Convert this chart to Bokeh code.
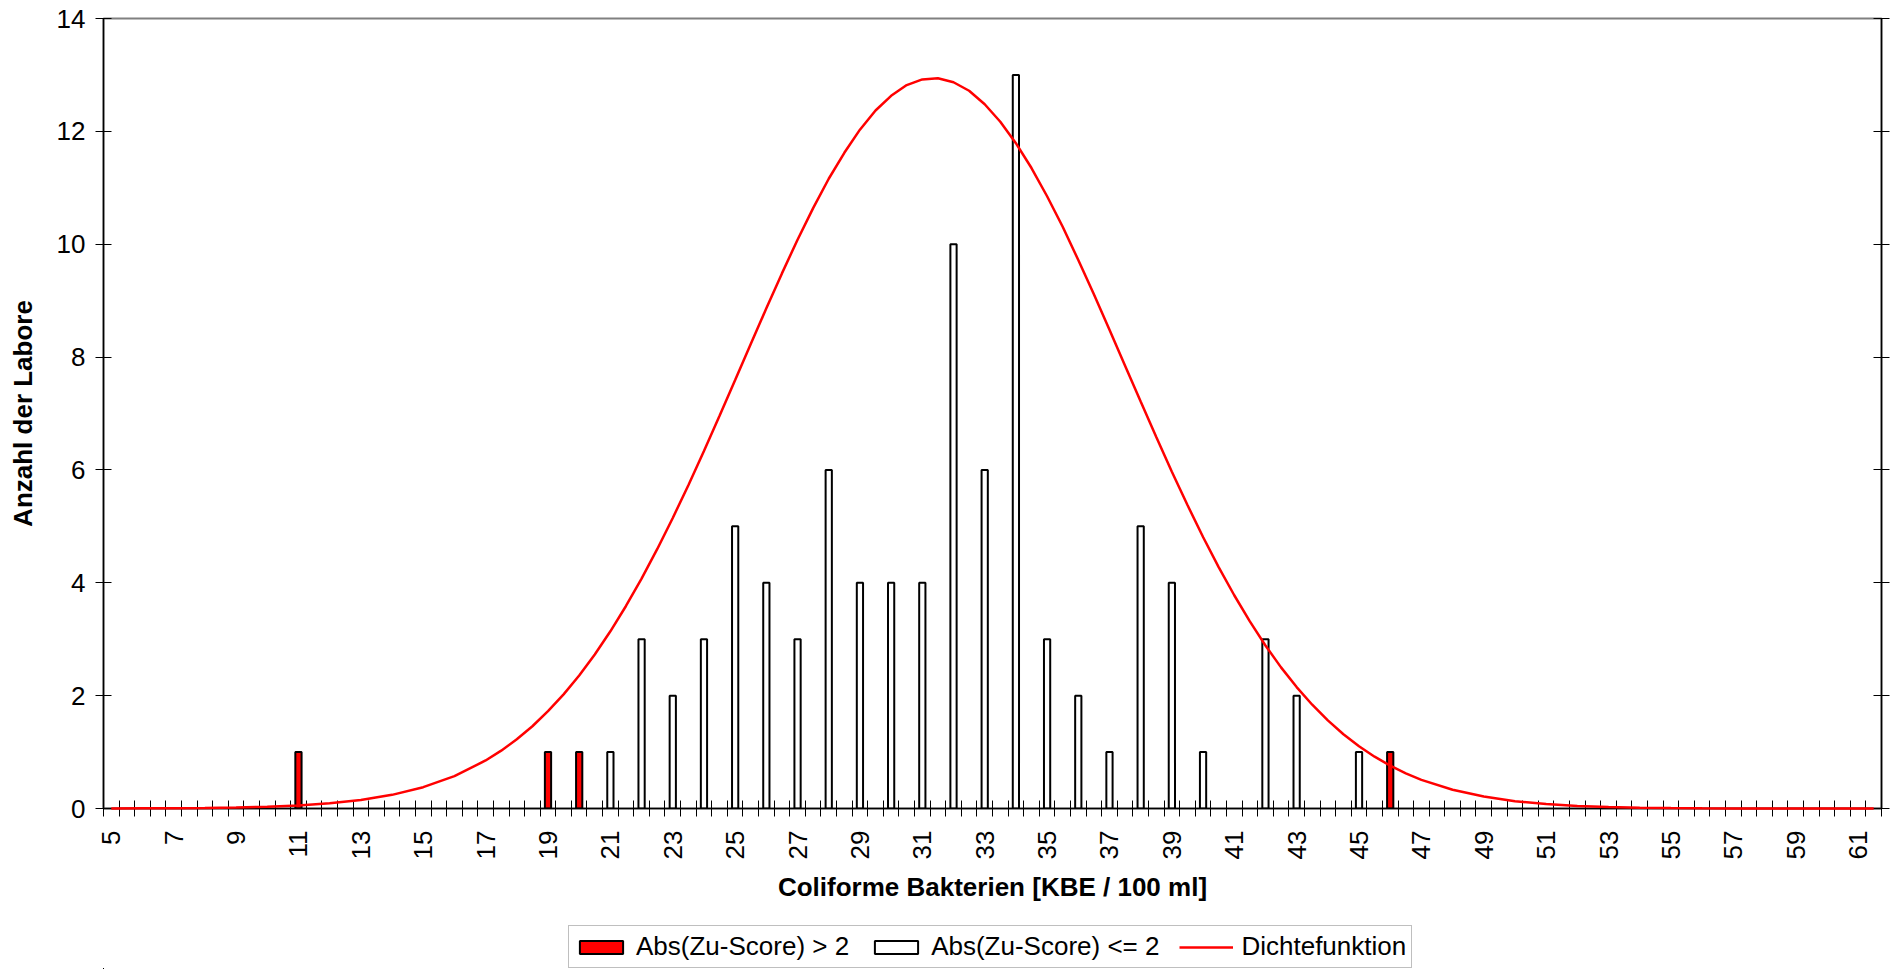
import math
from bokeh.plotting import figure
from bokeh.layouts import column
from bokeh.models import ColumnDataSource, FixedTicker, LinearAxis, Legend, LegendItem, Range1d
from bokeh.embed import file_html
from bokeh.resources import INLINE

# ---- data ----
red_x = [11, 19, 20, 46]
red_counts = [1, 1, 1, 1]

white_x = [21, 22, 23, 24, 25, 26, 27, 28, 29, 30, 31, 32, 33, 34, 35, 36, 37, 38, 39, 40, 42, 43, 45]
white_counts = [1, 3, 2, 3, 5, 4, 3, 6, 4, 4, 4, 10, 6, 13, 3, 2, 1, 5, 4, 1, 3, 2, 1]

curve_x = [5, 6, 7, 8, 9, 10, 11, 12, 13, 14, 15, 16, 17, 17.5, 18, 18.5, 19, 19.5, 20, 20.5,
           21, 21.5, 22, 22.5, 23, 23.5, 24, 24.5, 25, 25.5, 26, 26.5, 27, 27.5, 28, 28.5,
           29, 29.5, 30, 30.5, 31, 31.5, 32, 32.5, 33, 33.5, 34, 34.5, 35, 35.5, 36, 36.5,
           37, 37.5, 38, 38.5, 39, 39.5, 40, 40.5, 41, 41.5, 42, 42.5, 43, 43.5, 44, 44.5,
           45, 45.5, 46, 46.5, 47, 48, 49, 50, 51, 52, 53, 54, 55, 56, 57, 58, 59, 60, 61, 61.5]
curve_y = [0.001, 0.003, 0.005, 0.010, 0.018, 0.031, 0.054, 0.092, 0.151, 0.242, 0.378, 0.574,
           0.851, 1.025, 1.227, 1.458, 1.724, 2.023, 2.357, 2.730, 3.140, 3.589, 4.075, 4.595,
           5.149, 5.730, 6.336, 6.959, 7.593, 8.231, 8.864, 9.483, 10.08, 10.64, 11.16, 11.62,
           12.03, 12.37, 12.63, 12.82, 12.92, 12.94, 12.87, 12.72, 12.48, 12.17, 11.79, 11.35,
           10.85, 10.31, 9.72, 9.114, 8.485, 7.848, 7.211, 6.584, 5.969, 5.378, 4.812, 4.278,
           3.779, 3.315, 2.888, 2.501, 2.152, 1.839, 1.561, 1.316, 1.102, 0.918, 0.759, 0.623,
           0.508, 0.332, 0.211, 0.130, 0.079, 0.046, 0.026, 0.015, 0.008, 0.004, 0.002, 0.001,
           0.0005, 0.0002, 0.0001, 0.0001]

x_tick_labels = [5, 7, 9, 11, 13, 15, 17, 19, 21, 23, 25, 27, 29, 31, 33, 35, 37, 39, 41, 43,
                 45, 47, 49, 51, 53, 55, 57, 59, 61]
y_tick_values = [0, 2, 4, 6, 8, 10, 12, 14]

x_title = "Coliforme Bakterien [KBE / 100 ml]"
y_title = "Anzahl der Labore"
legend_labels = ["Abs(Zu-Score) > 2", "Abs(Zu-Score) <= 2", "Dichtefunktion"]

# ---- styles ----
FONT = "Liberation Sans"
FS = "26px"
RED = "#FF0000"

# ---- main figure ----
x_lo, x_hi = 4.75, 61.75
p = figure(width=1899, height=915, x_range=Range1d(x_lo, x_hi), y_range=Range1d(0, 14),
           output_backend="svg", toolbar_location=None,
           min_border_left=103, min_border_right=18, min_border_top=18, min_border_bottom=107)
p.xgrid.visible = False
p.ygrid.visible = False
p.outline_line_color = "#808080"
p.outline_line_width = 2
p.background_fill_color = "white"
p.border_fill_color = "white"

# category boundaries (half-unit cells)
boundaries = [x_lo + 0.5 * k for k in range(int(round((x_hi - x_lo) / 0.5)) + 1)]

xa = p.xaxis[0]
xa.ticker = FixedTicker(ticks=x_tick_labels, minor_ticks=boundaries)
xa.major_tick_line_color = None
xa.major_tick_in = 0
xa.major_tick_out = 8
xa.minor_tick_in = 8
xa.minor_tick_out = 8
xa.minor_tick_line_color = "black"
xa.minor_tick_line_width = 1
xa.major_label_orientation = math.pi / 2
xa.major_label_standoff = 14
xa.major_label_text_font = FONT
xa.major_label_text_font_size = FS
xa.major_label_text_color = "black"
xa.axis_line_color = "black"
xa.axis_line_width = 1.5
xa.axis_label = x_title
xa.axis_label_text_font = FONT
xa.axis_label_text_font_size = FS
xa.axis_label_text_font_style = "bold"
xa.axis_label_text_color = "black"
xa.axis_label_standoff = 10

ya = p.yaxis[0]
ya.ticker = FixedTicker(ticks=y_tick_values)
ya.major_tick_in = 8
ya.major_tick_out = 8
ya.major_tick_line_color = "black"
ya.minor_tick_line_color = None
ya.major_label_standoff = 10
ya.major_label_text_font = FONT
ya.major_label_text_font_size = FS
ya.major_label_text_color = "black"
ya.axis_line_color = "black"
ya.axis_line_width = 1.5
ya.axis_label = y_title
ya.axis_label_text_font = FONT
ya.axis_label_text_font_size = FS
ya.axis_label_text_font_style = "bold"
ya.axis_label_text_color = "black"
ya.axis_label_standoff = 16

ra = LinearAxis(ticker=FixedTicker(ticks=y_tick_values), major_tick_in=8, major_tick_out=8,
                major_tick_line_color="black", minor_tick_line_color=None,
                major_label_overrides={v: "" for v in y_tick_values}, major_label_standoff=0,
                axis_line_color="black", axis_line_width=1.5)
p.add_layout(ra, "right")

src_red = ColumnDataSource(dict(x=red_x, top=red_counts))
src_white = ColumnDataSource(dict(x=white_x, top=white_counts))
src_curve = ColumnDataSource(dict(x=curve_x, y=curve_y))

bar_style = dict(width=0.2, line_color="black", line_width=2)
p.vbar(x="x", top="top", bottom=0, source=src_red, fill_color=RED, **bar_style)
p.vbar(x="x", top="top", bottom=0, source=src_white, fill_color="white", **bar_style)
p.line(x="x", y="y", source=src_curve, line_color=RED, line_width=2.5, level="overlay")

# ---- legend strip (small canvas under the chart; same sources, kept out of its view) ----
q = figure(width=1899, height=54, x_range=Range1d(1000, 1001), y_range=Range1d(1000, 1001),
           x_axis_type=None, y_axis_type=None, output_backend="svg", toolbar_location=None,
           min_border=0, outline_line_color=None)
q.xgrid.visible = False
q.ygrid.visible = False
lg_red = q.vbar(x="x", top="top", bottom=0, source=src_red, fill_color=RED, **bar_style)
lg_white = q.vbar(x="x", top="top", bottom=0, source=src_white, fill_color="white", **bar_style)
lg_line = q.line(x="x", y="y", source=src_curve, line_color=RED, line_width=2.5)

legend = Legend(items=[LegendItem(label=legend_labels[0], renderers=[lg_red]),
                       LegendItem(label=legend_labels[1], renderers=[lg_white]),
                       LegendItem(label=legend_labels[2], renderers=[lg_line])],
                orientation="horizontal", location=(465, 1),
                label_text_font=FONT, label_text_font_size=FS, label_text_color="black",
                glyph_width=54, glyph_height=16, label_standoff=8, spacing=20,
                padding=5, margin=0, border_line_color="#808080", border_line_width=1.5,
                background_fill_color="white", background_fill_alpha=1.0)
q.add_layout(legend, "center")

open("out.html", "w").write(file_html(column(p, q, spacing=0), INLINE))
